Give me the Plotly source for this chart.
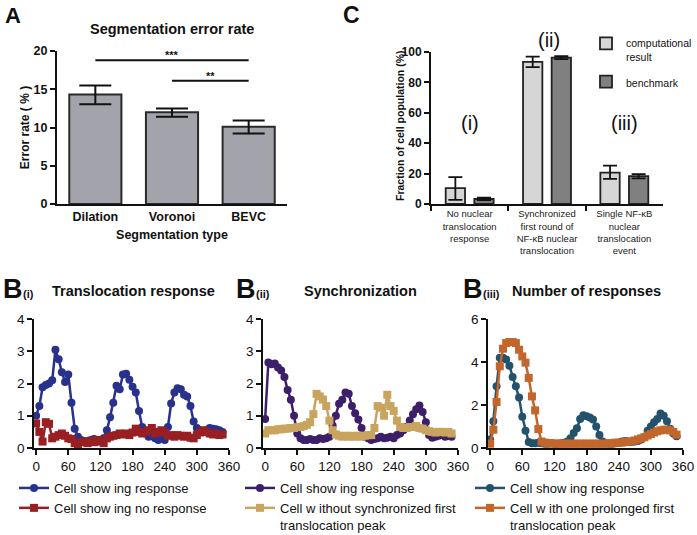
import plotly.graph_objects as go

W, H = 697, 535
SANS = "Liberation Sans, Arial, sans-serif"

# ---------------- Panel A data ----------------
seg_types = ["Dilation", "Voronoi", "BEVC"]
seg_error = [14.3, 12.0, 10.1]
seg_err_plus = [1.2, 0.5, 0.8]
seg_err_minus = [1.25, 0.6, 0.9]
sig_labels = ["***", "**"]
sig_from = [0, 1]
sig_to = [2, 2]
sig_level = [18.8, 16.1]

# ---------------- Panel C data ----------------
c_keys = ["i", "ii", "iii"]
c_ticktext = ["No nuclear<br>translocation<br>response",
              "Synchronized<br>first round of<br>NF-κB nuclear<br>translocation",
              "Single NF-κB<br>nuclear<br>translocation<br>event"]
comp_vals = [10.5, 93.5, 20.7]
comp_plus = [7.2, 3.5, 4.5]
comp_minus = [7.8, 3.5, 4.2]
bench_vals = [3.3, 96.3, 18.3]
bench_err = [0.8, 1.0, 1.4]

# ---------------- Panel B data (time in min) ----------------
time_min = [0, 6, 12, 18, 24, 30, 36, 42, 48, 54, 60, 66, 72, 78, 84, 90, 96, 102, 108, 114,
            120, 126, 132, 138, 144, 150, 156, 162, 168, 174, 180, 186, 192, 198, 204, 210, 216,
            222, 228, 234, 240, 246, 252, 258, 264, 270, 276, 282, 288, 294, 300, 306, 312, 318,
            324, 330, 336, 342, 348]

bi_response = [1.0, 1.3, 1.88, 1.95, 2.0, 2.1, 3.05, 2.75, 2.35, 2.05, 2.28, 1.4, 0.6, 0.35, 0.25,
               0.22, 0.2, 0.25, 0.28, 0.25, 0.22, 0.3, 0.55, 0.95, 1.4, 1.93, 1.82, 2.28, 2.3, 2.12,
               1.9, 1.72, 1.15, 0.65, 0.45, 0.35, 0.38, 0.3, 0.25, 0.3, 0.25, 0.65, 1.38, 1.72, 1.85,
               1.82, 1.65, 1.6, 1.3, 0.82, 0.62, 0.55, 0.5, 0.55, 0.62, 0.6, 0.58, 0.55, 0.5]
bi_noresp = [0.76, 0.5, 0.2, 0.8, 0.75, 0.3, 0.35, 0.4, 0.45, 0.38, 0.3, 0.28, 0.15, 0.12, 0.18,
             0.2, 0.15, 0.22, 0.18, 0.25, 0.2, 0.15, 0.3, 0.35, 0.38, 0.4, 0.45, 0.42, 0.45, 0.4,
             0.48, 0.6, 0.5, 0.45, 0.5, 0.55, 0.62, 0.45, 0.5, 0.55, 0.48, 0.38, 0.4, 0.35, 0.4,
             0.38, 0.35, 0.38, 0.32, 0.3, 0.4, 0.48, 0.55, 0.5, 0.45, 0.42, 0.45, 0.4, 0.42]

bii_response = [0.9, 2.65, 2.6, 2.62, 2.5, 2.4, 2.2, 1.8, 1.5, 1.0, 0.45, 0.3, 0.25, 0.25, 0.28,
                0.25, 0.25, 0.3, 0.28, 0.3, 0.35, 0.7, 1.0, 1.37, 1.5, 1.72, 1.68, 1.3, 1.08, 0.88,
                0.62, 0.35, 0.3, 0.25, 0.28, 0.3, 0.35, 0.3, 0.32, 0.35, 0.3, 0.4, 0.45, 0.55, 0.65,
                0.85, 1.05, 1.2, 1.32, 1.12, 0.8, 0.4, 0.32, 0.35, 0.38, 0.4, 0.35, 0.38, 0.35]
bii_unsync = [0.45, 0.55, 0.55, 0.55, 0.58, 0.58, 0.6, 0.6, 0.62, 0.62, 0.65, 0.65, 0.68, 0.72, 0.8,
              1.05, 1.68, 1.6, 1.5, 1.3, 0.85, 0.55, 0.42, 0.38, 0.35, 0.38, 0.35, 0.38, 0.35, 0.38,
              0.35, 0.38, 0.4, 0.4, 0.62, 1.3, 1.25, 1.0, 1.65, 1.3, 1.15, 0.85, 0.65, 0.62, 0.62,
              0.65, 0.65, 0.68, 0.62, 0.6, 0.55, 0.52, 0.5, 0.48, 0.5, 0.5, 0.48, 0.5, 0.45]

biii_response = [0.4, 1.25, 2.87, 4.2, 4.2, 4.12, 3.82, 3.3, 2.87, 2.35, 1.45, 0.8, 0.28, 0.22, 0.22,
                 0.25, 0.22, 0.2, 0.2, 0.22, 0.2, 0.2, 0.22, 0.25, 0.3, 0.45, 0.7, 0.92, 1.35, 1.52,
                 1.48, 1.42, 1.32, 1.0, 0.6, 0.3, 0.22, 0.2, 0.2, 0.22, 0.25, 0.3, 0.32, 0.3, 0.28,
                 0.3, 0.32, 0.4, 0.5, 0.8, 1.0, 1.2, 1.35, 1.6, 1.5, 1.25, 0.9, 0.67, 0.55]
biii_prolonged = [0.2, 0.85, 2.14, 3.8, 4.62, 4.88, 4.93, 4.93, 4.88, 4.57, 4.26, 3.97, 3.26, 2.4,
                  1.75, 0.88, 0.3, 0.25, 0.22, 0.22, 0.2, 0.2, 0.2, 0.2, 0.2, 0.2, 0.2, 0.2, 0.2,
                  0.2, 0.2, 0.2, 0.2, 0.2, 0.2, 0.2, 0.2, 0.22, 0.22, 0.25, 0.25, 0.25, 0.28, 0.3,
                  0.3, 0.35, 0.4, 0.45, 0.5, 0.58, 0.65, 0.72, 0.78, 0.82, 0.85, 0.85, 0.82, 0.75, 0.62]

x_ticks = [0, 60, 120, 180, 240, 300, 360]

# colours
C_BAR_A = "#a3a3ab"
C_LIGHT = "#d6d6d6"
C_DARK = "#808080"
C_BLUE = "#28318c"
C_RED = "#981f22"
C_PURPLE = "#3d1f69"
C_GOLD = "#c9a45f"
C_TEAL = "#24516b"
C_ORANGE = "#c2662b"


def fx(p):
    return p / W


def fy(p):
    return 1 - p / H


fig = go.Figure()

# ---- Panel A bars ----
fig.add_trace(go.Bar(
    x=seg_types, y=seg_error, width=0.68,
    marker=dict(color=C_BAR_A, line=dict(color="#2a2a2a", width=2)),
    error_y=dict(type="data", array=seg_err_plus, arrayminus=seg_err_minus,
                 color="#111", thickness=2, width=16),
    xaxis="x", yaxis="y", showlegend=False))

# ---- Panel C bars ----
fig.add_trace(go.Bar(
    x=c_keys, y=comp_vals, width=0.25, offset=-0.31, name="computational<br>result",
    marker=dict(color=C_LIGHT, line=dict(color="#222", width=1.8)),
    error_y=dict(type="data", array=comp_plus, arrayminus=comp_minus,
                 color="#111", thickness=1.8, width=7),
    xaxis="x2", yaxis="y2", legend="legend4", legendgroup="c1"))
fig.add_trace(go.Bar(
    x=c_keys, y=bench_vals, width=0.25, offset=0.06, name="benchmark",
    marker=dict(color=C_DARK, line=dict(color="#222", width=1.8)),
    error_y=dict(type="data", array=bench_err, color="#111", thickness=1.8, width=7),
    xaxis="x2", yaxis="y2", legend="legend4", legendgroup="c2"))


def line_trace(y, name, color, symbol, xa, ya, leg):
    return go.Scatter(
        x=time_min, y=y, name=name, mode="lines+markers",
        line=dict(color=color, width=2.5),
        marker=dict(color=color, size=8, symbol=symbol),
        xaxis=xa, yaxis=ya, legend=leg)


fig.add_trace(line_trace(bi_response, "Cell show ing response", C_BLUE, "circle", "x3", "y3", "legend"))
fig.add_trace(line_trace(bi_noresp, "Cell show ing no response", C_RED, "square", "x3", "y3", "legend"))
fig.add_trace(line_trace(bii_response, "Cell show ing response", C_PURPLE, "circle", "x4", "y4", "legend2"))
fig.add_trace(line_trace(bii_unsync, "Cell w ithout synchronized first<br>translocation peak", C_GOLD, "square", "x4", "y4", "legend2"))
fig.add_trace(line_trace(biii_response, "Cell show ing response", C_TEAL, "circle", "x5", "y5", "legend3"))
fig.add_trace(line_trace(biii_prolonged, "Cell w ith one prolonged first<br>translocation peak", C_ORANGE, "square", "x5", "y5", "legend3"))

axis_common = dict(showgrid=False, zeroline=False, showline=True, linecolor="#111",
                   tickcolor="#111", fixedrange=True, automargin=False)

b_tickfont = dict(family=SANS, size=13.5, color="#111")

layout = dict(
    width=W, height=H, margin=dict(l=0, r=0, t=0, b=0, autoexpand=False),
    plot_bgcolor="white", paper_bgcolor="white",
    font=dict(family=SANS, color="#111"),
    barmode="overlay",
    # Panel A
    xaxis=dict(domain=[fx(57), fx(287)], anchor="y", range=[-0.5, 2.5], type="category",
               linewidth=2, ticks="",
               tickfont=dict(size=12.5, weight="bold", color="#111"),
               title=dict(text="Segmentation type", font=dict(size=12.5, weight="bold"), standoff=7),
               **axis_common),
    yaxis=dict(domain=[fy(204), fy(51)], anchor="x", range=[0, 20], tickvals=[0, 5, 10, 15, 20],
               linewidth=2, ticks="outside", ticklen=5, tickwidth=2,
               tickfont=dict(size=12.5, weight="bold", color="#111"),
               title=dict(text="Error rate ( % )", font=dict(size=12, weight="bold"), standoff=1),
               **axis_common),
    # Panel C
    xaxis2=dict(domain=[fx(431), fx(663)], anchor="y2", range=[-0.5, 2.5], type="category",
                tickvals=c_keys, ticktext=c_ticktext, tickson="boundaries", tickangle=0,
                linewidth=2, ticks="outside", ticklen=5, tickwidth=1.5,
                tickfont=dict(family=SANS, size=9.5, color="#222"),
                **axis_common),
    yaxis2=dict(domain=[fy(204), fy(52)], anchor="x2", range=[0, 100],
                tickvals=[0, 20, 40, 60, 80, 100],
                linewidth=2, ticks="outside", ticklen=5, tickwidth=2,
                tickfont=dict(size=12, weight="bold", color="#111"),
                **axis_common),
    # Panel B(i)
    xaxis3=dict(domain=[fx(34), fx(229)], anchor="y3", range=[-4, 360], tickvals=x_ticks,
                linewidth=1.5, ticks="outside", ticklen=5, tickwidth=1.5, tickfont=b_tickfont, **axis_common),
    yaxis3=dict(domain=[fy(448), fy(319)], anchor="x3", range=[0, 4], tickvals=[0, 1, 2, 3, 4],
                linewidth=1.5, ticks="outside", ticklen=5, tickwidth=1.5, tickfont=b_tickfont, **axis_common),
    # Panel B(ii)
    xaxis4=dict(domain=[fx(263), fx(458)], anchor="y4", range=[-4, 360], tickvals=x_ticks,
                linewidth=1.5, ticks="outside", ticklen=5, tickwidth=1.5, tickfont=b_tickfont, **axis_common),
    yaxis4=dict(domain=[fy(448), fy(319)], anchor="x4", range=[0, 4], tickvals=[0, 1, 2, 3, 4],
                linewidth=1.5, ticks="outside", ticklen=5, tickwidth=1.5, tickfont=b_tickfont, **axis_common),
    # Panel B(iii)
    xaxis5=dict(domain=[fx(488), fx(683)], anchor="y5", range=[-4, 360], tickvals=x_ticks,
                linewidth=1.5, ticks="outside", ticklen=5, tickwidth=1.5, tickfont=b_tickfont, **axis_common),
    yaxis5=dict(domain=[fy(448), fy(319)], anchor="x5", range=[0, 6], tickvals=[0, 2, 4, 6],
                linewidth=1.5, ticks="outside", ticklen=5, tickwidth=1.5, tickfont=b_tickfont, **axis_common),
)

leg_common = dict(xanchor="left", yanchor="top", bgcolor="rgba(0,0,0,0)",
                  font=dict(family=SANS, size=13, color="#111"), itemwidth=30,
                  tracegroupgap=0, valign="top", itemclick=False, itemdoubleclick=False)
layout["legend"] = dict(x=fx(14), y=fy(473), **leg_common)
layout["legend2"] = dict(x=fx(240), y=fy(473), **leg_common)
layout["legend3"] = dict(x=fx(470), y=fy(473), **leg_common)
layout["legend4"] = dict(x=fx(586), y=fy(30), xanchor="left", yanchor="top", bgcolor="rgba(0,0,0,0)",
                         font=dict(family=SANS, size=10.5, color="#111"), itemwidth=30,
                         traceorder="grouped", tracegroupgap=8, valign="top",
                         itemclick=False, itemdoubleclick=False)

fig.update_layout(**layout)

# significance lines in panel A
for lab, a, b, lv in zip(sig_labels, sig_from, sig_to, sig_level):
    fig.add_shape(type="line", xref="x", yref="y", x0=a, x1=b, y0=lv, y1=lv,
                  line=dict(color="#111", width=2))
    fig.add_annotation(xref="x", yref="y", x=(a + b) / 2 if lab == "***" else 1.5, y=lv,
                       text=lab, showarrow=False, yanchor="bottom", yshift=-3,
                       font=dict(size=11, weight="bold", color="#111"))


def add_text(x, y, text, size, bold=True, xanchor="left", angle=0):
    fig.add_annotation(xref="paper", yref="paper", x=fx(x), y=fy(y), text=text,
                       showarrow=False, xanchor=xanchor, yanchor="middle", textangle=angle,
                       font=dict(size=size, family=SANS, color="#111",
                                 weight="bold" if bold else "normal"))


add_text(3, 15, "A", 22)
add_text(172, 29, "Segmentation error rate", 14.5, xanchor="center")
add_text(341, 15, "C", 23)
add_text(400, 126, "Fraction of cell population (%)", 10.5, xanchor="center", angle=-90)
add_text(470, 123, "(i)", 20, bold=False, xanchor="center")
add_text(549, 40, "(ii)", 20, bold=False, xanchor="center")
add_text(624, 123, "(iii)", 20, bold=False, xanchor="center")

# B panel headings
add_text(1, 289, "B", 27)
add_text(21, 294, "(i)", 11)
add_text(133, 291, "Translocation response", 14.5, xanchor="center")
add_text(234, 289, "B", 27)
add_text(254, 294, "(ii)", 11)
add_text(360, 291, "Synchronization", 14.5, xanchor="center")
add_text(461, 289, "B", 27)
add_text(481, 294, "(iii)", 11)
add_text(586, 291, "Number of responses", 14.5, xanchor="center")

fig.write_html("out.html", config={"displayModeBar": False},
               post_script="document.body.style.margin='0px';document.body.style.overflow='hidden';")
